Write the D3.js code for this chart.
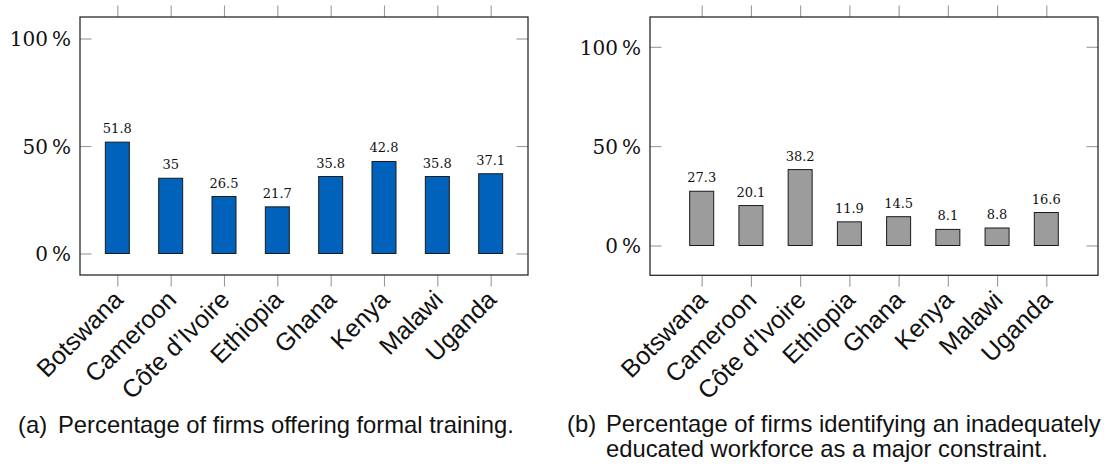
<!DOCTYPE html>
<html>
<head>
<meta charset="utf-8">
<script src="https://cdn.jsdelivr.net/npm/d3@7/dist/d3.min.js"></script>
<style>
  html, body { margin: 0; padding: 0; background: #fff; }
  svg { display: block; }
  .tick line { stroke: #9a9a9a; stroke-width: 1.1; }
  .ylab { font-family: "DejaVu Serif", serif; font-size: 20px; fill: #111; }
  .vlab { font-family: "DejaVu Serif", serif; font-size: 13px; fill: #111; }
  .xlab { font-family: "Liberation Sans", Arial, sans-serif; font-size: 25px; fill: #111; }
  .cap  { font-family: "Liberation Sans", Arial, sans-serif; font-size: 23.8px; fill: #111; }
</style>
</head>
<body>
<svg id="chart" width="1109" height="466"></svg>
<script>
// Country categories shared by both panels
const countries = ["Botswana", "Cameroon", "Côte d’Ivoire", "Ethiopia", "Ghana", "Kenya", "Malawi", "Uganda"];
// (a) share of firms offering formal training, %
const trainingPct = [51.8, 35, 26.5, 21.7, 35.8, 42.8, 35.8, 37.1];
// (b) share of firms naming an inadequately educated workforce a major constraint, %
const constraintPct = [27.3, 20.1, 38.2, 11.9, 14.5, 8.1, 8.8, 16.6];
// Y-axis tick values, %
const yTicks = [0, 50, 100];

const svg = d3.select("#chart");

function panel(opts) {
  const { values, x0, x1, y0, y1, yDomain, pad, fill } = opts;
  const x = d3.scalePoint().domain(countries).range([x0, x1]).padding(pad);
  const y = d3.scaleLinear().domain(yDomain).range([y1, y0]);
  const g = svg.append("g");
  const tick = 11.5;

  // top ticks (outside)
  g.append("g").attr("transform", `translate(0,${y0})`)
    .call(d3.axisTop(x).tickSize(tick).tickFormat(""))
    .call(a => a.select(".domain").remove());
  // bottom ticks
  g.append("g").attr("transform", `translate(0,${y1})`)
    .call(d3.axisBottom(x).tickSize(tick).tickFormat(""))
    .call(a => a.select(".domain").remove());
  // left ticks (inside) with percent labels
  g.append("g").attr("transform", `translate(${x0},0)`)
    .call(d3.axisLeft(y).tickValues(yTicks).tickSize(-tick).tickPadding(9)
      .tickFormat(d => d + "\u2009%"))
    .call(a => a.select(".domain").remove())
    .call(a => a.selectAll("text").attr("class", "ylab").attr("dy", "0.36em")
      .attr("font-family", null).attr("font-size", null));
  // right ticks (inside)
  g.append("g").attr("transform", `translate(${x1},0)`)
    .call(d3.axisRight(y).tickValues(yTicks).tickSize(-tick).tickFormat(""))
    .call(a => a.select(".domain").remove());

  // frame
  g.append("rect")
    .attr("x", x0).attr("y", y0)
    .attr("width", x1 - x0).attr("height", y1 - y0)
    .attr("fill", "none").attr("stroke", "#2a2a2a").attr("stroke-width", 1.3);

  // bars
  const bw = 24;
  g.selectAll("rect.bar").data(values).join("rect")
    .attr("class", "bar")
    .attr("x", (d, i) => x(countries[i]) - bw / 2)
    .attr("y", d => y(d))
    .attr("width", bw)
    .attr("height", d => y(0) - y(d))
    .attr("fill", fill)
    .attr("stroke", "#1a1a1a").attr("stroke-width", 1);

  // value labels
  g.selectAll("text.vlab").data(values).join("text")
    .attr("class", "vlab")
    .attr("x", (d, i) => x(countries[i]))
    .attr("y", d => y(d) - 9)
    .attr("text-anchor", "middle")
    .text(d => d);

  // rotated category labels
  g.selectAll("text.xlab").data(countries).join("text")
    .attr("class", "xlab")
    .attr("transform", d => `translate(${x(d) + 1},${y1 + 20}) rotate(-45)`)
    .attr("text-anchor", "end")
    .attr("dy", "0.35em")
    .text(d => d);
}

panel({ values: trainingPct, x0: 80, x1: 528, y0: 17, y1: 275, yDomain: [-10, 110], pad: 0.7, fill: "#0062BB" });
panel({ values: constraintPct, x0: 650, x1: 1098, y0: 17, y1: 275.3, yDomain: [-15, 115], pad: 1.05, fill: "#9c9c9c" });

// sub-captions
const cap = svg.append("g").attr("class", "cap");
cap.append("text").attr("x", 18).attr("y", 433).text("(a)");
cap.append("text").attr("x", 58).attr("y", 433).text("Percentage of firms offering formal training.");
cap.append("text").attr("x", 567).attr("y", 432).text("(b)");
cap.append("text").attr("x", 606).attr("y", 432).text("Percentage of firms identifying an inadequately");
cap.append("text").attr("x", 606).attr("y", 457).text("educated workforce as a major constraint.");
</script>
</body>
</html>
